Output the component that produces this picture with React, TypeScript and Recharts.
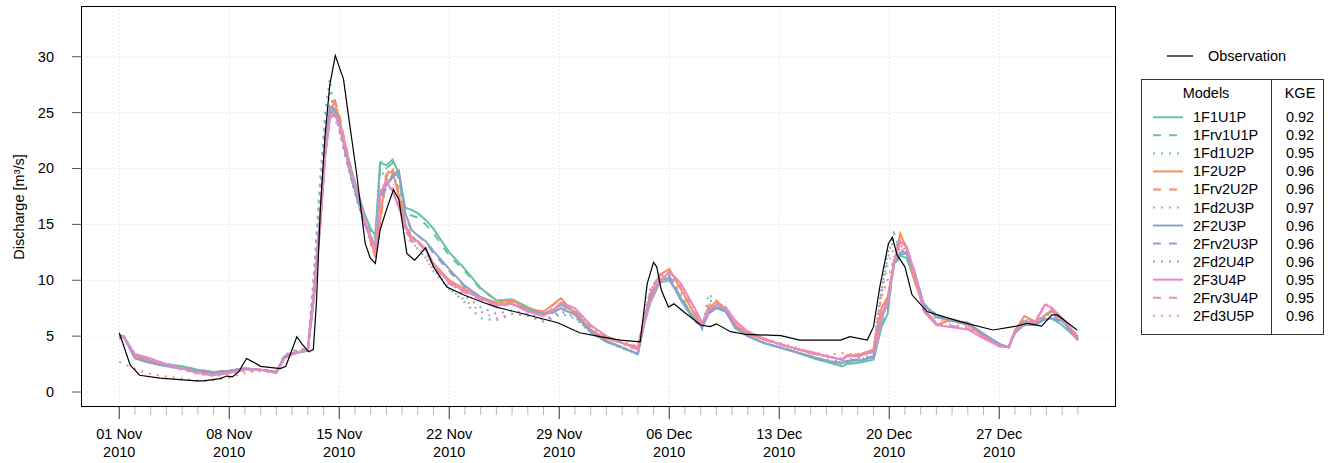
import React from 'react';
import { LineChart, Line, XAxis, YAxis, CartesianGrid, ReferenceLine } from 'recharts';

// days since 01 Nov 2010
const dayGrid = [
  0, 0.3, 1, 1.5, 2, 3, 4, 5, 6, 7,
  8, 9, 10, 10.5, 11, 12, 12.4, 12.8, 13.1, 13.4,
  13.7, 14, 14.4, 14.8, 15.2, 15.6, 16, 16.3, 16.6, 17,
  17.4, 17.8, 18.2, 18.6, 19, 19.5, 20, 21, 22, 23,
  24, 25, 26, 27, 27.6, 28.1, 29, 30, 31, 32,
  33, 33.4, 33.8, 34.4, 35, 35.7, 36.5, 37.1, 37.5, 38,
  38.6, 39.2, 40, 41, 42, 43, 44, 45, 46, 46.3,
  47, 48, 48.2, 48.5, 48.9, 49.3, 49.7, 50.1, 50.6, 51.2,
  52, 53, 54, 55, 56, 56.6, 57, 57.6, 58.3, 58.9,
  59.3, 60, 61,
];

const obsDays = [
  0, 0.7, 1.3, 2.6, 4.9, 5.4, 6.4, 6.85, 7.2, 7.6,
  8.1, 8.5, 9.0, 10.25, 10.6, 11.3, 11.6, 12.05, 12.35, 12.55,
  12.8, 13.1, 13.4, 13.75, 14.27, 14.6, 15.1, 15.65, 15.97, 16.3,
  16.6, 17.0, 17.45, 17.8, 18.3, 18.8, 19.5, 20.0, 20.85, 21.9,
  23.0, 24.0, 25.7, 27.9, 29.3, 30.6, 31.9, 33.15, 33.6, 34.0,
  34.2, 34.5, 34.95, 35.3, 35.9, 37.0, 37.6, 38.0, 38.9, 39.9,
  42.1, 43.3, 45.9, 46.5, 47.6, 48.0, 48.4, 48.95, 49.2, 49.5,
  50.0, 50.45, 51.4, 53.5, 55.6, 57.1, 57.8, 58.7, 59.35, 59.7,
  60.95,
];
const obsQ = [
  5.3, 2.4, 1.5, 1.25, 1.0, 1.0, 1.2, 1.43, 1.35, 1.8,
  3.0, 2.7, 2.3, 2.1, 2.3, 4.95, 4.35, 3.6, 3.8, 8.0,
  16.5, 23.0, 27.5, 30.1, 28.0, 24.6, 19.6, 13.3, 12.0, 11.5,
  14.5, 16.3, 18.1, 17.2, 12.4, 11.8, 12.9, 11.2, 9.4, 8.7,
  8.1, 7.6, 7.0, 6.2, 5.3, 4.95, 4.65, 4.5, 9.7, 11.6,
  11.2, 9.1, 7.6, 7.9, 7.2, 6.0, 5.85, 6.1, 5.4, 5.15,
  5.05, 4.65, 4.65, 4.95, 4.65, 5.85, 9.4, 13.3, 13.85, 12.25,
  11.2, 8.7, 7.2, 6.3, 5.55, 5.9, 6.15, 5.9, 6.9, 6.9,
  5.55,
];

const q1F1U1P = [
  5.1, 5.0, 3.3, 3.0, 2.8, 2.5, 2.3, 2.0, 1.8, 1.9,
  2.1, 2.0, 1.8, 3.1, 3.4, 3.7, 8.5, 15.0, 21.0, 24.5,
  25.0, 24.0, 21.8, 19.8, 17.8, 16.0, 14.6, 14.0, 20.5, 20.3,
  20.8, 19.5, 16.5, 16.3, 16.0, 15.4, 14.6, 12.5, 11.0, 9.3,
  8.2, 8.3, 7.6, 7.0, 7.3, 7.8, 7.2, 5.6, 4.6, 4.0,
  3.4, 6.0, 8.0, 9.8, 10.0, 8.5, 6.8, 5.8, 7.2, 7.6,
  7.3, 5.8, 5.0, 4.4, 4.0, 3.6, 3.1, 2.7, 2.3, 2.5,
  2.6, 2.9, 4.0, 5.8, 7.0, 11.8, 12.2, 12.0, 10.0, 7.8,
  6.9, 6.4, 6.0, 5.1, 4.3, 4.0, 5.3, 6.0, 6.0, 6.5,
  6.6, 6.0, 4.7,
];
const q1Frv1U1P = [
  5.0, 4.9, 3.2, 2.9, 2.7, 2.4, 2.2, 2.0, 1.8, 1.9,
  2.1, 2.0, 1.8, 3.0, 3.4, 3.7, 8.8, 15.3, 21.3, 24.8,
  25.3, 24.2, 21.5, 19.5, 17.6, 15.8, 14.4, 13.6, 20.0, 20.0,
  20.5, 19.0, 16.0, 15.8, 15.6, 15.0, 14.2, 12.2, 10.8, 9.2,
  8.2, 8.2, 7.5, 7.0, 7.4, 7.9, 7.1, 5.5, 4.6, 4.0,
  3.4, 6.2, 8.3, 10.0, 10.2, 8.6, 6.8, 5.8, 7.3, 7.8,
  7.3, 5.8, 5.0, 4.4, 4.0, 3.6, 3.1, 2.7, 2.4, 2.6,
  2.6, 3.0, 4.2, 6.0, 7.3, 11.5, 12.0, 12.3, 10.2, 7.9,
  6.9, 6.4, 6.0, 5.1, 4.3, 4.0, 5.4, 6.1, 6.0, 6.6,
  6.7, 6.0, 4.8,
];
const q1Fd1U2P = [
  4.9, 4.8, 3.1, 2.9, 2.7, 2.4, 2.1, 1.9, 1.7, 1.8,
  2.0, 1.9, 1.8, 3.2, 3.6, 3.9, 11.0, 19.5, 25.0, 28.0,
  25.0, 23.5, 21.0, 19.0, 17.0, 15.0, 14.2, 13.8, 20.7, 20.0,
  19.5, 18.0, 14.5, 13.5, 12.8, 12.0, 11.0, 9.3, 8.0, 6.6,
  6.4, 7.0, 6.8, 6.3, 6.6, 7.0, 6.6, 5.3, 4.5, 3.9,
  3.4, 6.5, 9.0, 10.5, 10.5, 8.7, 6.6, 5.6, 8.8, 8.0,
  7.2, 5.8, 5.0, 4.4, 4.0, 3.6, 3.2, 2.8, 2.5, 2.7,
  2.9, 3.2, 6.0, 9.0, 12.0, 14.2, 12.5, 12.5, 10.5, 7.8,
  6.8, 6.5, 6.2, 5.2, 4.3, 4.0, 5.5, 6.5, 6.2, 6.9,
  7.1, 6.3, 4.8,
];
const q1F2U2P = [
  5.0, 4.9, 3.2, 2.9, 2.7, 2.4, 2.1, 1.9, 1.7, 1.9,
  2.1, 2.0, 1.8, 3.0, 3.4, 3.8, 9.0, 15.5, 21.5, 25.0,
  26.0, 24.5, 22.0, 19.5, 17.5, 15.5, 13.5, 12.2, 15.5, 19.5,
  19.8, 17.5, 15.0, 13.8, 13.5, 12.8, 11.5, 10.0, 9.2, 8.5,
  8.0, 8.2, 7.4, 7.2, 7.8, 8.4, 7.0, 5.5, 4.8, 4.4,
  4.0, 6.5, 8.8, 10.5, 11.0, 9.3, 7.2, 5.9, 7.5, 8.1,
  7.4, 6.0, 5.2, 4.7, 4.3, 3.9, 3.5, 3.2, 2.9, 3.3,
  3.3, 3.8, 5.5, 7.5, 8.5, 11.5, 14.2, 12.8, 10.0, 7.5,
  6.0, 6.5, 6.0, 5.0, 4.2, 4.0, 5.5, 6.8, 6.3, 6.8,
  7.3, 6.5, 4.6,
];
const q1Frv2U2P = [
  5.0, 4.9, 3.2, 2.9, 2.7, 2.4, 2.1, 1.9, 1.8, 1.9,
  2.1, 2.0, 1.8, 3.0, 3.4, 3.8, 8.8, 15.3, 21.3, 25.2,
  26.2, 24.8, 22.2, 19.6, 17.4, 15.4, 13.4, 12.0, 15.0, 19.2,
  20.0, 17.8, 15.2, 13.8, 13.4, 12.7, 11.4, 10.0, 9.2, 8.4,
  7.9, 8.1, 7.4, 7.2, 7.8, 8.3, 7.0, 5.5, 4.8, 4.4,
  4.0, 6.4, 8.7, 10.4, 11.0, 9.3, 7.3, 5.9, 7.6, 8.1,
  7.5, 6.0, 5.2, 4.7, 4.3, 3.9, 3.5, 3.2, 2.9, 3.2,
  3.3, 3.7, 5.3, 7.3, 8.5, 11.2, 14.0, 13.0, 10.2, 7.6,
  6.1, 6.5, 6.0, 5.0, 4.2, 4.0, 5.4, 6.7, 6.3, 6.8,
  7.2, 6.5, 4.6,
];
const q1Fd2U3P = [
  2.7, 2.5, 2.1, 1.8, 1.6, 1.4, 1.2, 1.0, 1.05, 1.3,
  1.7, 1.9, 1.8, 3.1, 3.4, 3.8, 9.5, 16.0, 22.0, 25.5,
  25.5, 24.0, 21.5, 19.2, 17.3, 15.3, 13.2, 12.0, 15.5, 19.8,
  19.5, 17.5, 15.0, 14.0, 13.5, 12.5, 11.3, 10.0, 9.0, 8.3,
  7.7, 7.8, 7.4, 7.0, 7.5, 7.8, 7.0, 5.6, 4.9, 4.5,
  4.1, 6.6, 9.0, 10.5, 10.6, 9.0, 7.2, 5.8, 7.8, 8.2,
  7.3, 6.0, 5.3, 4.8, 4.4, 4.0, 3.6, 3.3, 3.5, 3.4,
  3.4, 3.7, 6.0, 8.5, 10.0, 12.0, 13.2, 12.5, 10.2, 7.8,
  6.5, 6.3, 6.0, 5.2, 4.3, 4.0, 5.4, 6.3, 6.3, 6.9,
  7.4, 6.6, 4.7,
];
const q2F2U3P = [
  5.0, 4.9, 3.0, 2.8, 2.6, 2.3, 2.1, 1.9, 1.7, 1.9,
  2.1, 2.0, 1.8, 3.2, 3.5, 3.7, 9.2, 16.0, 22.0, 25.5,
  25.3, 24.2, 21.5, 19.0, 17.0, 15.2, 14.0, 13.0, 17.5, 18.5,
  19.2, 19.8, 16.0, 14.5, 14.0, 13.5, 12.6, 11.0, 9.5, 8.5,
  7.8, 7.9, 7.3, 7.0, 7.1, 7.5, 6.9, 5.4, 4.5, 4.0,
  3.4, 6.3, 8.5, 10.0, 10.2, 8.3, 6.6, 5.8, 7.0, 7.5,
  7.2, 5.7, 5.0, 4.4, 4.0, 3.6, 3.2, 2.8, 2.6, 2.8,
  2.8, 3.1, 4.5, 6.5, 8.0, 11.5, 12.3, 12.4, 10.8, 7.8,
  6.7, 6.4, 6.2, 5.2, 4.3, 4.0, 5.3, 6.3, 6.1, 6.5,
  6.6, 6.4, 4.8,
];
const q2Frv2U3P = [
  5.0, 4.9, 3.1, 2.8, 2.6, 2.3, 2.1, 1.9, 1.7, 1.9,
  2.1, 2.0, 1.8, 3.1, 3.5, 3.7, 9.0, 15.8, 21.8, 25.2,
  25.0, 24.0, 21.3, 19.0, 17.0, 15.2, 13.8, 12.8, 17.0, 18.3,
  19.5, 19.5, 15.8, 14.4, 14.0, 13.4, 12.4, 10.8, 9.4, 8.4,
  7.8, 7.9, 7.3, 7.0, 7.2, 7.5, 6.9, 5.4, 4.5, 4.0,
  3.4, 6.3, 8.4, 10.0, 10.4, 8.4, 6.7, 5.8, 7.2, 7.6,
  7.2, 5.8, 5.0, 4.4, 4.0, 3.6, 3.2, 2.8, 2.6, 2.8,
  2.9, 3.2, 4.8, 6.8, 8.3, 11.7, 12.5, 12.6, 10.8, 7.8,
  6.7, 6.4, 6.1, 5.1, 4.3, 4.0, 5.3, 6.2, 6.1, 6.5,
  6.7, 6.3, 4.7,
];
const q2Fd2U4P = [
  4.8, 4.8, 3.0, 2.8, 2.6, 2.3, 2.0, 1.8, 1.6, 1.8,
  2.0, 2.0, 1.8, 3.3, 3.7, 3.9, 10.5, 18.5, 24.0, 26.8,
  25.0, 23.5, 21.0, 18.8, 16.8, 15.0, 13.8, 13.2, 20.0, 19.0,
  19.0, 18.8, 15.0, 14.0, 13.4, 12.8, 11.5, 9.8, 8.6, 7.6,
  7.0, 7.3, 7.0, 6.5, 6.8, 7.2, 6.7, 5.3, 4.5, 3.9,
  3.4, 6.8, 9.2, 10.5, 10.3, 8.5, 6.6, 5.7, 8.2, 8.0,
  7.2, 5.8, 5.0, 4.4, 4.0, 3.6, 3.2, 2.9, 2.7, 2.9,
  3.0, 3.3, 6.2, 9.2, 12.5, 13.5, 12.8, 12.5, 10.5, 7.8,
  6.8, 6.5, 6.2, 5.2, 4.3, 4.0, 5.5, 6.5, 6.2, 6.8,
  7.0, 6.4, 4.8,
];
const q2F3U4P = [
  4.9, 4.9, 3.4, 3.2, 3.0, 2.5, 2.1, 1.7, 1.5, 1.7,
  2.0, 2.0, 1.7, 3.0, 3.4, 3.8, 8.6, 15.2, 21.0, 24.5,
  24.8, 24.0, 21.8, 19.6, 17.6, 15.6, 13.8, 12.8, 17.8, 18.8,
  18.0, 16.5, 14.8, 13.5, 13.5, 12.7, 11.4, 9.8, 9.0, 8.4,
  7.8, 7.9, 7.2, 6.8, 7.3, 8.0, 7.5, 6.0, 5.0, 4.4,
  3.8, 6.2, 8.2, 9.8, 10.8, 9.8, 7.8, 6.2, 7.3, 7.8,
  7.6, 6.4, 5.4, 4.8, 4.3, 3.9, 3.6, 3.2, 2.9, 3.2,
  3.2, 3.6, 4.2, 6.6, 8.0, 11.5, 13.5, 13.0, 10.8, 7.2,
  6.0, 5.8, 5.6, 4.8, 4.1, 4.0, 5.4, 6.1, 6.3, 7.8,
  7.6, 6.6, 5.0,
];
const q2Frv3U4P = [
  4.9, 4.9, 3.3, 3.1, 2.9, 2.5, 2.1, 1.7, 1.5, 1.7,
  2.0, 2.0, 1.7, 3.0, 3.4, 3.8, 8.8, 15.4, 21.2, 24.6,
  24.9, 24.0, 21.8, 19.5, 17.5, 15.5, 13.7, 12.7, 17.5, 18.8,
  18.2, 16.6, 14.8, 13.6, 13.4, 12.6, 11.3, 9.7, 8.9, 8.3,
  7.7, 7.9, 7.2, 6.8, 7.3, 7.9, 7.4, 5.9, 5.0, 4.4,
  3.8, 6.3, 8.3, 10.0, 10.8, 9.7, 7.7, 6.1, 7.3, 7.8,
  7.5, 6.3, 5.4, 4.8, 4.3, 3.9, 3.5, 3.2, 2.9, 3.2,
  3.2, 3.6, 4.4, 6.8, 8.3, 11.6, 13.4, 13.0, 10.8, 7.3,
  6.1, 5.9, 5.7, 4.9, 4.1, 4.0, 5.4, 6.2, 6.3, 7.7,
  7.5, 6.6, 4.9,
];
const q2Fd3U5P = [
  4.8, 4.8, 3.2, 3.0, 2.8, 2.4, 2.0, 1.6, 1.4, 1.6,
  1.9, 1.9, 1.7, 3.1, 3.6, 3.9, 10.0, 17.5, 23.0, 25.5,
  24.5, 23.5, 21.2, 19.2, 17.2, 15.2, 13.5, 12.8, 18.5, 18.5,
  18.0, 16.5, 14.5, 13.2, 13.0, 12.0, 10.8, 9.2, 8.2, 7.2,
  6.6, 7.0, 6.9, 6.3, 6.8, 7.3, 7.2, 5.8, 5.0, 4.3,
  3.7, 6.6, 9.0, 10.4, 10.6, 9.5, 7.6, 6.2, 7.6, 7.9,
  7.4, 6.2, 5.3, 4.7, 4.3, 3.9, 3.5, 3.2, 3.0, 3.3,
  3.4, 3.7, 5.8, 8.6, 11.5, 12.8, 13.2, 12.6, 10.5, 7.5,
  6.2, 6.0, 5.8, 5.0, 4.2, 4.0, 5.6, 6.3, 6.3, 7.9,
  7.6, 6.5, 4.9,
];

const modelNames = [
  '1F1U1P', '1Frv1U1P', '1Fd1U2P',
  '1F2U2P', '1Frv2U2P', '1Fd2U3P',
  '2F2U3P', '2Frv2U3P', '2Fd2U4P',
  '2F3U4P', '2Frv3U4P', '2Fd3U5P',
];
const kgeValues = ['0.92', '0.92', '0.95', '0.96', '0.96', '0.97', '0.96', '0.96', '0.96', '0.95', '0.95', '0.96'];
const modelSeries = [
  q1F1U1P, q1Frv1U1P, q1Fd1U2P,
  q1F2U2P, q1Frv2U2P, q1Fd2U3P,
  q2F2U3P, q2Frv2U3P, q2Fd2U4P,
  q2F3U4P, q2Frv3U4P, q2Fd3U5P,
];

const majorTickDays = [0, 7, 14, 21, 28, 35, 42, 49, 56];
const majorTickLabels = ['01 Nov', '08 Nov', '15 Nov', '22 Nov', '29 Nov', '06 Dec', '13 Dec', '20 Dec', '27 Dec'];
const yearLabel = '2010';
const allTickDays = Array.from({ length: 62 }, (_, i) => i);
const yTicks = [0, 5, 10, 15, 20, 25, 30];

const palette = ['#66C2A5', '#FC8D62', '#8DA0CB', '#E78AC3'];
const dashes = ['', '8 8', '2 6'];
const colorOf = (i: number) => palette[Math.floor(i / 3)];
const dashOf = (i: number) => dashes[i % 3];

const FONT = '"Liberation Sans", Arial, Helvetica, sans-serif';
const FS = 14.5;
const PLOT_L = 82;
const PLOT_T = 7;
const PLOT_R = 1116;
const PLOT_B = 407;

const rows = dayGrid.map((d, i) => {
  const r: Record<string, number> = { day: d };
  modelSeries.forEach((s, k) => { r['m' + k] = s[i]; });
  return r;
});
const obsRows = obsDays.map((d, i) => ({ day: d, obs: obsQ[i] }));

const XTick = (props: any) => {
  const { x, payload } = props;
  const idx = majorTickDays.indexOf(payload.value);
  if (idx < 0) {
    return <line x1={x} x2={x} y1={PLOT_B} y2={PLOT_B + 8} stroke="#b5b5b5" strokeWidth={1} />;
  }
  return (
    <g>
      <line x1={x} x2={x} y1={PLOT_B} y2={PLOT_B + 12} stroke="#333" strokeWidth={1} />
      <text x={x} y={439} textAnchor="middle" fontFamily={FONT} fontSize={FS} fill="#000">{majorTickLabels[idx]}</text>
      <text x={x} y={457} textAnchor="middle" fontFamily={FONT} fontSize={FS} fill="#000">{yearLabel}</text>
    </g>
  );
};

const YTick = (props: any) => {
  const { y, payload } = props;
  return (
    <g>
      <line x1={72} x2={PLOT_L} y1={y} y2={y} stroke="#555" strokeWidth={1} />
      <text x={54} y={y} textAnchor="end" dominantBaseline="central" fontFamily={FONT} fontSize={FS} fill="#000">
        {payload.value}
      </text>
    </g>
  );
};

const Legend = () => {
  const boxL = 1141, boxT = 79, boxR = 1323, boxB = 334, divX = 1271;
  const rowY0 = 117.3, rowStep = 18.04;
  return (
    <svg width={1328} height={463} style={{ position: 'absolute', left: 0, top: 0, pointerEvents: 'none' }}>
      <rect x={PLOT_L - 0.5} y={PLOT_T - 0.5} width={PLOT_R - PLOT_L} height={PLOT_B - PLOT_T} fill="none" stroke="#000" strokeWidth={1} />
      <text
        x={19}
        y={207}
        transform="rotate(-90 19 207)"
        textAnchor="middle"
        dominantBaseline="central"
        fontFamily={FONT}
        fontSize={FS}
        fill="#000"
      >
        Discharge [m³/s]
      </text>
      <line x1={1167} x2={1193} y1={56} y2={56} stroke="#000" strokeWidth={1.3} />
      <text x={1208} y={56} dominantBaseline="central" fontFamily={FONT} fontSize={FS} fill="#000">Observation</text>
      <rect x={boxL + 0.5} y={boxT + 0.5} width={boxR - boxL} height={boxB - boxT} fill="none" stroke="#333" strokeWidth={1} />
      <line x1={divX + 0.5} x2={divX + 0.5} y1={boxT} y2={boxB} stroke="#333" strokeWidth={1} />
      <text x={1206} y={93} textAnchor="middle" dominantBaseline="central" fontFamily={FONT} fontSize={FS} fill="#000">Models</text>
      <text x={1300} y={93} textAnchor="middle" dominantBaseline="central" fontFamily={FONT} fontSize={FS} fill="#000">KGE</text>
      {modelNames.map((name, i) => {
        const y = rowY0 + i * rowStep;
        return (
          <g key={name}>
            <line x1={1153} x2={1183} y1={y} y2={y} stroke={colorOf(i)} strokeWidth={2} strokeDasharray={dashOf(i) || undefined} />
            <text x={1193} y={y} dominantBaseline="central" fontFamily={FONT} fontSize={FS} fill="#000">{name}</text>
            <text x={1300} y={y} textAnchor="middle" dominantBaseline="central" fontFamily={FONT} fontSize={FS} fill="#000">{kgeValues[i]}</text>
          </g>
        );
      })}
    </svg>
  );
};

export default function App() {
  return (
    <div style={{ position: 'absolute', left: 0, top: 0, width: 1328, height: 463, background: '#fff' }}>
      <LineChart
        width={1328}
        height={463}
        data={rows}
        margin={{ top: PLOT_T, right: 1328 - PLOT_R, bottom: 0, left: 0 }}
      >
        <CartesianGrid vertical={false} stroke="#d6d6d6" strokeDasharray="1 3" />
        {majorTickDays.map((d) => (
          <ReferenceLine key={d} x={d} stroke="#d6d6d6" strokeDasharray="1 3" />
        ))}
        <XAxis
          dataKey="day"
          type="number"
          domain={[-2.37, 63.43]}
          ticks={allTickDays}
          interval={0}
          allowDataOverflow
          axisLine={false}
          tickLine={false}
          height={463 - PLOT_B}
          tick={<XTick />}
        />
        <YAxis
          type="number"
          domain={[-1.34, 34.45]}
          ticks={yTicks}
          interval={0}
          allowDataOverflow
          axisLine={false}
          tickLine={false}
          width={PLOT_L}
          tick={<YTick />}
        />
        {modelNames.map((name, i) => (
          <Line
            key={name}
            name={name}
            dataKey={'m' + i}
            type="linear"
            stroke={colorOf(i)}
            strokeWidth={2}
            strokeDasharray={dashOf(i) || undefined}
            dot={false}
            activeDot={false}
            isAnimationActive={false}
          />
        ))}
        <Line
          data={obsRows}
          dataKey="obs"
          name="Observation"
          type="linear"
          stroke="#000"
          strokeWidth={1.2}
          dot={false}
          activeDot={false}
          isAnimationActive={false}
        />
      </LineChart>
      <Legend />
    </div>
  );
}
